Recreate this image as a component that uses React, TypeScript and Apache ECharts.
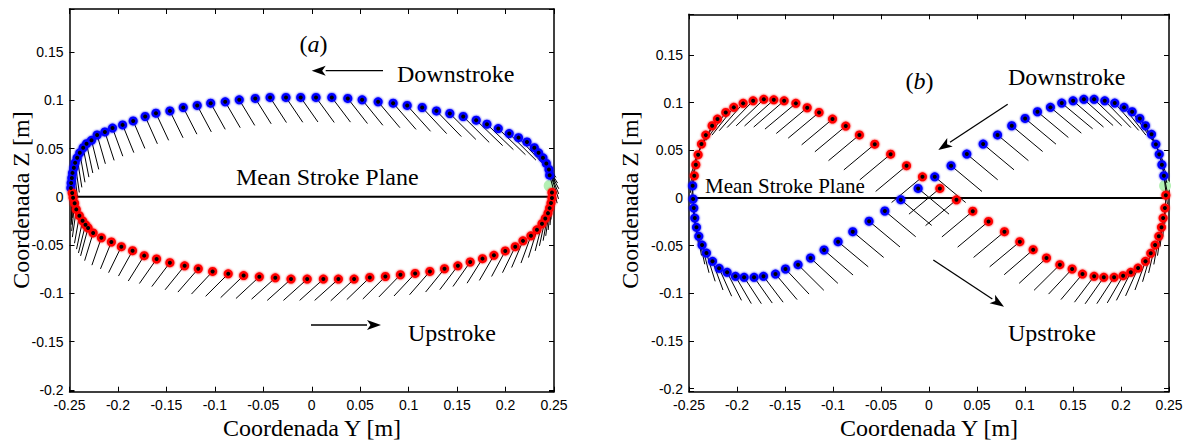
import React, { useEffect, useRef } from "react";
import * as echarts from "echarts";

// ---------------- Panel (a): elliptic stroke ----------------
// Downstroke (blue), from right end to left end
const aDownY = [0.2455,0.2448,0.2421,0.2386,0.2341,0.2297,0.2221,0.2134,0.2038,0.1925,0.1808,0.1697,0.1563,0.1425,0.1287,0.114,0.0985,0.084,0.0685,0.052,0.0372,0.0207,0.0044,-0.0114,-0.0266,-0.043,-0.0583,-0.0748,-0.0893,-0.1043,-0.1182,-0.1326,-0.1464,-0.1608,-0.1719,-0.1843,-0.1952,-0.2056,-0.2135,-0.2215,-0.2273,-0.2324,-0.2359,-0.2394,-0.2421,-0.2442,-0.2455,-0.2469,-0.2476,-0.2483,-0.2486];
const aDownZ = [0.0224,0.0283,0.0346,0.0404,0.0456,0.0509,0.0568,0.0613,0.0655,0.0707,0.0752,0.0794,0.0832,0.0863,0.089,0.0925,0.0946,0.097,0.0984,0.1005,0.1019,0.1029,0.1029,0.1029,0.1029,0.1029,0.1019,0.1005,0.0984,0.097,0.0946,0.0925,0.089,0.0866,0.0832,0.0786,0.0745,0.0712,0.0672,0.064,0.0585,0.055,0.0508,0.0456,0.0404,0.0352,0.03,0.0248,0.0196,0.0144,0.0092];
const aDownAngle = [75,72,68,63,58,54,50,47,45,44,44,44,45,45,46,47,48,49,50,51,52,53,54,55,56,57,58,59,60,61,62,63,64,65,66,67,68,70,72,74,76,78,79,80,81,82,83,84,85,86,87];
const aDownChord = [0.030,0.032,0.034,0.036,0.037,0.038,0.039,0.039,0.039,0.039,0.038,0.038,0.038,0.038,0.037,0.037,0.036,0.036,0.035,0.034,0.033,0.032,0.032,0.031,0.031,0.031,0.031,0.031,0.031,0.031,0.031,0.031,0.031,0.031,0.031,0.031,0.031,0.031,0.031,0.031,0.031,0.031,0.031,0.031,0.031,0.031,0.031,0.031,0.031,0.031,0.031];

// Upstroke (red), from left end to right end
const aUpY = [-0.2472,-0.2463,-0.2447,-0.243,-0.2398,-0.2365,-0.2335,-0.2308,-0.2256,-0.2171,-0.2068,-0.1965,-0.1849,-0.1729,-0.1601,-0.1464,-0.1312,-0.1171,-0.1023,-0.0862,-0.0703,-0.0541,-0.0376,-0.0214,-0.0047,0.012,0.0275,0.0437,0.0599,0.076,0.0915,0.1067,0.1219,0.137,0.1508,0.1635,0.1762,0.188,0.1997,0.21,0.218,0.2262,0.2324,0.2376,0.241,0.2438,0.2455,0.2469,0.2479,0.2479];
const aUpZ = [0.004,-0.001,-0.0066,-0.013,-0.0195,-0.0248,-0.029,-0.0322,-0.0374,-0.0424,-0.0468,-0.0516,-0.0558,-0.0609,-0.0644,-0.0682,-0.0714,-0.0745,-0.0773,-0.0797,-0.0815,-0.0828,-0.0839,-0.0852,-0.0852,-0.0852,-0.0852,-0.0852,-0.0835,-0.0825,-0.0807,-0.0793,-0.0773,-0.0745,-0.0714,-0.0675,-0.064,-0.0606,-0.056,-0.0516,-0.0456,-0.0404,-0.0342,-0.0279,-0.0224,-0.0169,-0.0117,-0.0065,-0.0013,0.0045];
const aUpAngle = [88,86,84,82,80,78,76,75,73,71,68,64,61,58,55,53,51,49,47,45,44,43,42,42,42,42,42,43,44,45,46,47,49,51,53,55,58,60,62,64,67,70,73,76,78,80,82,84,86,88];
const aUpChord = [0.028,0.028,0.029,0.029,0.029,0.030,0.030,0.030,0.030,0.030,0.030,0.030,0.030,0.031,0.031,0.031,0.032,0.032,0.032,0.033,0.033,0.033,0.033,0.033,0.033,0.033,0.033,0.033,0.033,0.033,0.032,0.032,0.032,0.031,0.031,0.031,0.030,0.030,0.030,0.030,0.030,0.030,0.030,0.029,0.029,0.029,0.029,0.028,0.028,0.028];

const aStart = [0.2455, 0.0115];

// ---------------- Panel (b): figure-eight stroke ----------------
// Downstroke (blue), from left end through lower-left lobe to right end
const bDownY = [-0.2462,-0.2457,-0.245,-0.244,-0.2422,-0.2398,-0.2364,-0.2318,-0.2255,-0.2186,-0.2103,-0.2016,-0.1926,-0.1822,-0.1724,-0.1599,-0.1495,-0.1364,-0.1234,-0.1093,-0.0947,-0.0794,-0.0624,-0.046,-0.0294,-0.0113,0.006,0.023,0.0394,0.0564,0.0714,0.0862,0.1001,0.113,0.1265,0.1383,0.1501,0.1613,0.172,0.1831,0.1935,0.2032,0.2116,0.2196,0.2255,0.2318,0.2363,0.2398,0.2426,0.2447];
const bDownZ = [0.0129,-0.001,-0.0105,-0.021,-0.0307,-0.0401,-0.0493,-0.0577,-0.0664,-0.0737,-0.0779,-0.0821,-0.0831,-0.0831,-0.0821,-0.0797,-0.0744,-0.0699,-0.0629,-0.0545,-0.0458,-0.0353,-0.0243,-0.0136,-0.0017,0.0101,0.0223,0.0339,0.0461,0.0566,0.0662,0.0758,0.0835,0.0905,0.0951,0.0996,0.102,0.1035,0.1035,0.102,0.0996,0.0951,0.0905,0.0835,0.0758,0.0668,0.0563,0.0458,0.0349,0.0234];
const bDownAngle = [88,86,84,82,80,78,76,73,70,66,63,60,57,55,53,50,47,45,43,41,40,40,40,40,40,40,40,40,40,40,40,40,40,40,40,40,41,42,44,46,49,52,55,59,63,67,71,75,79,83];
const bDownChord = [0.030,0.030,0.030,0.030,0.030,0.030,0.030,0.031,0.032,0.032,0.033,0.033,0.033,0.033,0.034,0.035,0.036,0.038,0.039,0.040,0.041,0.042,0.042,0.042,0.042,0.042,0.042,0.042,0.042,0.042,0.042,0.042,0.042,0.042,0.042,0.042,0.042,0.041,0.040,0.039,0.038,0.037,0.036,0.035,0.034,0.033,0.032,0.031,0.030,0.030];

// Upstroke (red), from right end through lower-right lobe to left end
const bUpY = [0.2467,0.2457,0.2439,0.2422,0.2394,0.2355,0.231,0.2255,0.2178,0.2102,0.2022,0.1928,0.1821,0.172,0.1599,0.1491,0.1363,0.1224,0.1085,0.0946,0.0786,0.062,0.0456,0.0286,0.0113,-0.0068,-0.0234,-0.04,-0.0565,-0.0725,-0.0867,-0.1005,-0.1145,-0.1269,-0.1387,-0.1509,-0.1617,-0.1721,-0.1832,-0.1936,-0.2033,-0.2117,-0.2203,-0.2259,-0.2325,-0.237,-0.2405,-0.2429,-0.2445];
const bUpZ = [0.003,-0.0105,-0.021,-0.0307,-0.0401,-0.0493,-0.058,-0.0664,-0.0734,-0.0779,-0.0814,-0.0831,-0.0831,-0.0821,-0.0797,-0.0744,-0.0699,-0.0629,-0.0542,-0.0458,-0.0353,-0.0245,-0.0138,-0.0019,0.0101,0.0223,0.0339,0.046,0.0565,0.0662,0.0755,0.0828,0.0898,0.0947,0.0993,0.102,0.103,0.1035,0.102,0.0993,0.0951,0.0898,0.0828,0.0758,0.066,0.0566,0.0454,0.0349,0.0234];
const bUpAngle = [88,86,84,82,80,77,74,70,66,63,60,57,55,53,50,47,45,43,41,40,40,40,40,40,40,40,40,40,40,40,40,40,40,40,40,41,42,44,46,49,52,55,59,63,67,71,75,79,83];
const bUpChord = [0.030,0.030,0.030,0.030,0.030,0.030,0.031,0.032,0.032,0.033,0.033,0.033,0.034,0.034,0.035,0.036,0.038,0.039,0.040,0.041,0.042,0.042,0.042,0.042,0.042,0.042,0.042,0.042,0.042,0.042,0.042,0.042,0.042,0.042,0.042,0.042,0.041,0.040,0.039,0.038,0.037,0.036,0.035,0.034,0.033,0.032,0.031,0.030,0.030];

const bStart = [0.2459, 0.0129];

// Mean stroke plane and axis ranges
const planeY = [-0.25, 0.25];
const planeZ = [0, 0];
const xRange = [-0.25, 0.25];
const aZRange = [-0.2018, 0.1945];
const bZRange = [-0.2031, 0.1927];
const tickStep = 0.05;

const SERIF = "Liberation Serif";
const SANS = "Liberation Sans";

function fmtTick(v: number) {
  const k = v / tickStep;
  if (Math.abs(k - Math.round(k)) > 1e-6) return "";
  const r = Math.round(k) * tickStep;
  const s = String(parseFloat(r.toFixed(2)));
  return s === "-0" ? "0" : s;
}

function pts(ys: number[], zs: number[]) {
  return ys.map((y, i) => [y, zs[i]]);
}

function sticks(ys: number[], zs: number[], ang: number[], ch: number[], dir: number) {
  return ys.map((y, i) => [y, zs[i], ang[i], ch[i], dir]);
}

function stickRender(params: any, api: any) {
  const y = api.value(0);
  const z = api.value(1);
  const a = (api.value(2) * Math.PI) / 180;
  const L = api.value(3);
  const d = api.value(4);
  const p0 = api.coord([y, z]);
  const p1 = api.coord([y + d * L * Math.cos(a), z - L * Math.sin(a)]);
  return {
    type: "line",
    shape: { x1: p0[0], y1: p0[1], x2: p1[0], y2: p1[1] },
    style: { stroke: "#000", lineWidth: 1 },
  };
}

function arrow(x1: number, y1: number, x2: number, y2: number) {
  const ang = Math.atan2(y2 - y1, x2 - x1);
  const hl = 14;
  const hw = 5;
  const bx = x2 - hl * Math.cos(ang);
  const by = y2 - hl * Math.sin(ang);
  const nx = -Math.sin(ang);
  const ny = Math.cos(ang);
  return [
    { type: "line", shape: { x1, y1, x2: bx, y2: by }, style: { stroke: "#000", lineWidth: 1.3 } },
    {
      type: "polygon",
      shape: { points: [[x2, y2], [bx + nx * hw, by + ny * hw], [bx + Math.cos(ang) * 3.5, by + Math.sin(ang) * 3.5], [bx - nx * hw, by - ny * hw]] },
      style: { fill: "#000" },
    },
  ];
}

function txt(text: string, x: number, y: number, size: number, align = "left", extra: any = {}) {
  return {
    type: "text",
    x,
    y,
    style: { text, fill: "#000", fontFamily: SERIF, fontSize: size, align, verticalAlign: "middle", ...extra },
  };
}

function buildOption() {
  const axisLine = { show: true, onZero: false, lineStyle: { color: "#000", width: 1.5 } };
  const axisTick = { show: true, inside: true, length: 5, lineStyle: { color: "#000", width: 1 } };
  const label = { color: "#000", fontFamily: SANS, fontSize: 14, formatter: fmtTick, interval: 0 };

  const xAx = (gi: number, pos: string, showLabel: boolean) => ({
    type: "value",
    gridIndex: gi,
    position: pos,
    min: xRange[0],
    max: xRange[1],
    interval: tickStep,
    axisLine,
    axisTick,
    splitLine: { show: false },
    axisLabel: showLabel ? { ...label, margin: 6 } : { show: false },
  });
  const yAx = (gi: number, pos: string, range: number[], showLabel: boolean) => ({
    type: "value",
    gridIndex: gi,
    position: pos,
    min: range[0],
    max: range[1],
    minInterval: tickStep,
    maxInterval: tickStep,
    splitNumber: 8,
    axisLine,
    axisTick,
    splitLine: { show: false },
    axisLabel: showLabel ? { ...label, margin: 6 } : { show: false },
  });

  const dotStyle = (c: string) => ({ color: c, opacity: 1, shadowBlur: 2.5, shadowColor: c });

  const panelSeries = (ax: number, up: any, down: any, start: number[]) => [
    {
      type: "line",
      xAxisIndex: ax,
      yAxisIndex: ax,
      data: pts(planeY, planeZ),
      symbol: "none",
      lineStyle: { color: "#000", width: 2 },
      z: 1,
    },
    {
      type: "scatter",
      xAxisIndex: ax,
      yAxisIndex: ax,
      data: [start],
      symbolSize: 12,
      itemStyle: { color: "#b4f0b4", opacity: 1 },
      z: 2,
    },
    {
      type: "custom",
      xAxisIndex: ax,
      yAxisIndex: ax,
      renderItem: stickRender,
      data: sticks(down.y, down.z, down.a, down.c, 1),
      encode: { x: 0, y: 1 },
      z: 3,
    },
    {
      type: "custom",
      xAxisIndex: ax,
      yAxisIndex: ax,
      renderItem: stickRender,
      data: sticks(up.y, up.z, up.a, up.c, -1),
      encode: { x: 0, y: 1 },
      z: 3,
    },
    {
      type: "scatter",
      xAxisIndex: ax,
      yAxisIndex: ax,
      data: pts(down.y, down.z),
      symbolSize: 9,
      itemStyle: dotStyle("#0000ff"),
      z: 4,
    },
    {
      type: "scatter",
      xAxisIndex: ax,
      yAxisIndex: ax,
      data: pts(up.y, up.z),
      symbolSize: 9,
      itemStyle: dotStyle("#ff0000"),
      z: 4,
    },
    {
      type: "scatter",
      xAxisIndex: ax,
      yAxisIndex: ax,
      data: pts(down.y, down.z).concat(pts(up.y, up.z)),
      symbolSize: 4,
      itemStyle: { color: "#000", opacity: 1 },
      z: 5,
    },
  ];

  const aDown = { y: aDownY, z: aDownZ, a: aDownAngle, c: aDownChord };
  const aUp = { y: aUpY, z: aUpZ, a: aUpAngle, c: aUpChord };
  const bDown = { y: bDownY, z: bDownZ, a: bDownAngle, c: bDownChord };
  const bUp = { y: bUpY, z: bUpZ, a: bUpAngle, c: bUpChord };

  return {
    animation: false,
    backgroundColor: "#fff",
    grid: [
      { left: 69.5, top: 9, width: 484.5, height: 382.7 },
      { left: 689, top: 14.3, width: 480, height: 377.4 },
    ],
    xAxis: [xAx(0, "bottom", true), xAx(0, "top", false), xAx(1, "bottom", true), xAx(1, "top", false)],
    yAxis: [
      yAx(0, "left", aZRange, true),
      yAx(0, "right", aZRange, false),
      yAx(1, "left", bZRange, true),
      yAx(1, "right", bZRange, false),
    ],
    series: [...panelSeries(0, aUp, aDown, aStart), ...panelSeries(2, bUp, bDown, bStart)],
    graphic: [
      // panel (a)
      txt("({i|a})", 313.5, 44, 24, "center", { rich: { i: { fontStyle: "italic", fontFamily: SERIF, fontSize: 24 } } }),
      txt("Downstroke", 397, 74, 24),
      ...arrow(383, 70.7, 311.7, 70.7),
      txt("Mean Stroke Plane", 236, 177, 24),
      txt("Upstroke", 408, 333, 24),
      ...arrow(311, 325, 381, 325),
      txt("Coordenada Y [m]", 312, 428, 24, "center"),
      { ...txt("Coordenada Z [m]", 21, 200, 24, "center"), rotation: Math.PI / 2 },
      // panel (b)
      txt("({i|b})", 919.5, 81, 24, "center", { rich: { i: { fontStyle: "italic", fontFamily: SERIF, fontSize: 24 } } }),
      txt("Downstroke", 1008, 77, 24),
      ...arrow(1007.7, 104.3, 938.3, 150),
      txt("Mean Stroke Plane", 705, 186, 21),
      txt("Upstroke", 1008, 333, 24),
      ...arrow(933.3, 260, 1004, 306.7),
      txt("Coordenada Y [m]", 929, 428, 24, "center"),
      { ...txt("Coordenada Z [m]", 630, 200, 24, "center"), rotation: Math.PI / 2 },
    ],
  };
}

export default function App() {
  const ref = useRef<HTMLDivElement>(null);
  useEffect(() => {
    document.body.style.margin = "0";
    if (!ref.current) return;
    const chart = echarts.init(ref.current, undefined, { renderer: "svg" });
    chart.setOption(buildOption() as any);
    return () => chart.dispose();
  }, []);
  return <div ref={ref} style={{ width: 1190, height: 446, background: "#fff" }} />;
}
